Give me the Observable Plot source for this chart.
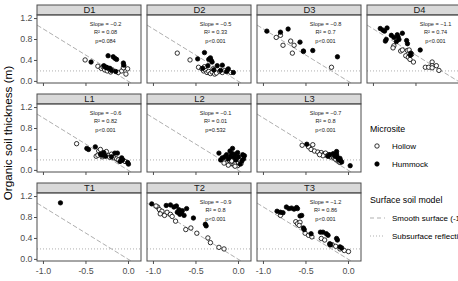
<!DOCTYPE html>
<html>
<head>
<meta charset="utf-8">
<script src="https://cdn.jsdelivr.net/npm/d3@7"></script>
<script src="https://cdn.jsdelivr.net/npm/@observablehq/plot@0.6"></script>
<style>
  html, body { margin: 0; padding: 0; overflow: hidden; background: #fff; }
  #chart { position: relative; width: 458px; height: 281px; overflow: hidden; }
  #chart svg { position: absolute; left: 0; top: 0; max-width: none !important; }
</style>
</head>
<body>
<div id="chart"></div>
<script>
// Sites, one panel each: letter = transect group (row), digit = site number (column)
const sites = ["D1", "D2", "D3", "D4", "L1", "L2", "L3", "T1", "T2", "T3"];
const micrositeNames = ["Hollow", "Hummock"];

// Measurements per site: [microsite elevation (m), organic soil thickness (m), microsite (0 hollow, 1 hummock)]
const D1 = [
  [-0.51, 0.41, 0], [-0.36, 0.29, 0], [-0.32, 0.25, 0], [-0.30, 0.28, 0], [-0.28, 0.22, 0],
  [-0.26, 0.27, 0], [-0.25, 0.20, 0], [-0.23, 0.24, 0], [-0.21, 0.18, 0], [-0.19, 0.22, 0],
  [-0.12, 0.17, 0], [-0.08, 0.20, 0], [-0.03, 0.14, 0], [-0.01, 0.24, 0], [-0.06, 0.26, 0],
  [-0.44, 0.37, 1], [-0.24, 0.49, 1], [-0.18, 0.47, 1], [-0.16, 0.44, 1], [-0.14, 0.42, 1],
  [-0.06, 0.35, 1], [-0.055, 0.31, 1], [-0.29, 0.30, 1], [-0.27, 0.27, 1], [-0.25, 0.26, 1],
  [-0.22, 0.25, 1], [-0.15, 0.19, 1], [-0.20, 0.21, 1]
];
const D2 = [
  [-0.72, 0.54, 0], [-0.57, 0.41, 0], [-0.47, 0.27, 0], [-0.43, 0.24, 0], [-0.41, 0.20, 0],
  [-0.39, 0.22, 0], [-0.37, 0.17, 0], [-0.35, 0.19, 0], [-0.33, 0.15, 0], [-0.31, 0.18, 0],
  [-0.28, 0.14, 0], [-0.26, 0.16, 0], [-0.22, 0.19, 0], [-0.19, 0.17, 0], [-0.16, 0.21, 0],
  [-0.09, 0.17, 0], [-0.40, 0.28, 0], [-0.30, 0.24, 0],
  [-0.48, 0.43, 1], [-0.40, 0.55, 1], [-0.35, 0.42, 1], [-0.33, 0.45, 1], [-0.32, 0.40, 1],
  [-0.31, 0.37, 1], [-0.25, 0.30, 1], [-0.19, 0.31, 1], [-0.12, 0.24, 1], [-0.06, 0.17, 1],
  [-0.42, 0.25, 1], [-0.29, 0.22, 1], [-0.21, 0.21, 1], [-0.36, 0.30, 1], [-0.14, 0.19, 1]
];
const D3 = [
  [-0.85, 0.84, 0], [-0.80, 0.88, 0], [-0.77, 0.69, 0], [-0.68, 0.77, 0], [-0.64, 0.69, 0],
  [-0.66, 0.54, 0], [-0.53, 0.57, 0], [-0.20, 0.27, 0],
  [-0.96, 0.96, 1], [-0.80, 0.94, 1], [-0.71, 1.00, 1], [-0.57, 0.75, 1], [-0.53, 0.58, 1],
  [-0.42, 0.59, 1], [-0.13, 0.47, 1]
];
const D4 = [
  [-0.76, 0.68, 0], [-0.77, 0.64, 0], [-0.68, 0.58, 0], [-0.66, 0.60, 0], [-0.60, 0.59, 0],
  [-0.58, 0.60, 0], [-0.62, 0.49, 0], [-0.59, 0.46, 0], [-0.57, 0.42, 0], [-0.53, 0.37, 0],
  [-0.55, 0.52, 0], [-0.31, 0.37, 0], [-0.31, 0.30, 0], [-0.39, 0.27, 0], [-0.35, 0.27, 0],
  [-0.31, 0.26, 0], [-0.26, 0.30, 0], [-0.23, 0.21, 0],
  [-0.92, 1.01, 1], [-0.89, 0.98, 1], [-0.87, 0.96, 1], [-0.84, 1.02, 1], [-0.85, 0.80, 1],
  [-0.86, 0.77, 1], [-0.79, 0.88, 1], [-0.76, 0.84, 1], [-0.72, 0.89, 1], [-0.71, 0.85, 1],
  [-0.73, 0.76, 1], [-0.66, 0.92, 1], [-0.61, 0.78, 1], [-0.60, 0.72, 1], [-0.56, 0.54, 1],
  [-0.565, 0.50, 1], [-0.45, 0.60, 1], [-0.70, 0.80, 1]
];
const L1 = [
  [-0.61, 0.51, 0], [-0.35, 0.37, 0], [-0.33, 0.40, 0], [-0.38, 0.27, 0], [-0.36, 0.29, 0],
  [-0.30, 0.33, 0], [-0.28, 0.30, 0], [-0.26, 0.36, 0], [-0.24, 0.28, 0], [-0.22, 0.25, 0],
  [-0.20, 0.31, 0], [-0.17, 0.24, 0], [-0.14, 0.22, 0], [-0.12, 0.20, 0], [-0.06, 0.19, 0],
  [-0.04, 0.17, 0], [-0.31, 0.26, 0],
  [-0.49, 0.42, 1], [-0.47, 0.40, 1], [-0.39, 0.45, 1], [-0.33, 0.31, 1], [-0.31, 0.29, 1],
  [-0.29, 0.34, 1], [-0.27, 0.27, 1], [-0.16, 0.33, 1], [-0.13, 0.33, 1], [-0.08, 0.24, 1],
  [-0.07, 0.20, 1], [-0.01, 0.15, 1], [0.00, 0.12, 1], [-0.10, 0.17, 1], [-0.20, 0.26, 1]
];
const L2 = [
  [-0.18, 0.20, 0], [-0.15, 0.18, 0], [-0.13, 0.15, 0], [-0.11, 0.19, 0], [-0.09, 0.13, 0],
  [-0.07, 0.16, 0], [-0.05, 0.11, 0], [-0.03, 0.14, 0], [-0.01, 0.09, 0], [0.01, 0.17, 0],
  [0.03, 0.13, 0], [-0.12, 0.10, 0], [-0.06, 0.21, 0], [-0.17, 0.14, 0], [-0.02, 0.22, 0],
  [0.00, 0.15, 0], [-0.08, 0.18, 0], [-0.04, 0.08, 0], [-0.14, 0.23, 0], [0.02, 0.19, 0],
  [-0.23, 0.33, 1], [-0.07, 0.42, 1], [-0.10, 0.37, 1], [-0.08, 0.33, 1], [-0.01, 0.34, 1],
  [0.05, 0.30, 1], [0.07, 0.28, 1], [-0.19, 0.24, 1], [-0.16, 0.26, 1], [-0.12, 0.22, 1],
  [-0.05, 0.25, 1], [0.02, 0.12, 1], [-0.03, 0.20, 1], [0.04, 0.18, 1], [-0.14, 0.30, 1],
  [0.00, 0.26, 1], [-0.21, 0.20, 1], [0.06, 0.22, 1], [-0.09, 0.27, 1], [-0.04, 0.31, 1]
];
const L3 = [
  [-0.545, 0.48, 0], [-0.47, 0.45, 0], [-0.42, 0.49, 0], [-0.44, 0.40, 0], [-0.40, 0.37, 0],
  [-0.36, 0.35, 0], [-0.32, 0.34, 0], [-0.29, 0.31, 0], [-0.27, 0.33, 0], [-0.25, 0.28, 0],
  [-0.23, 0.30, 0], [-0.21, 0.26, 0], [-0.19, 0.29, 0], [-0.17, 0.24, 0], [-0.15, 0.21, 0],
  [-0.12, 0.18, 0], [-0.10, 0.15, 0], [-0.30, 0.28, 0], [-0.34, 0.30, 0],
  [-0.49, 0.50, 1], [-0.24, 0.27, 1], [-0.22, 0.30, 1], [-0.18, 0.32, 1], [-0.14, 0.31, 1],
  [-0.16, 0.27, 1], [-0.13, 0.25, 1], [-0.12, 0.22, 1], [-0.11, 0.20, 1], [-0.09, 0.18, 1],
  [-0.08, 0.16, 1], [0.02, 0.09, 1], [-0.14, 0.36, 1], [-0.10, 0.23, 1]
];
const T1 = [
  [-0.80, 1.08, 1]
];
const T2 = [
  [-0.95, 1.00, 0], [-0.93, 0.95, 0], [-0.90, 0.92, 0], [-0.92, 0.87, 0], [-0.87, 0.84, 0],
  [-0.84, 0.90, 0], [-0.80, 0.86, 0], [-0.78, 0.82, 0], [-0.74, 0.73, 0], [-0.62, 0.57, 0],
  [-0.56, 0.60, 0], [-0.49, 0.50, 0], [-0.36, 0.41, 0], [-0.33, 0.32, 0], [-0.23, 0.23, 0],
  [-0.17, 0.20, 0], [-0.97, 1.02, 0],
  [-1.02, 1.06, 1], [-0.85, 1.03, 1], [-0.80, 1.04, 1], [-0.76, 1.00, 1], [-0.73, 1.02, 1],
  [-0.70, 0.95, 1], [-0.67, 0.89, 1], [-0.64, 0.84, 1], [-0.61, 0.97, 1], [-0.66, 0.93, 1],
  [-0.53, 0.79, 1], [-0.39, 0.67, 1], [-0.38, 0.64, 1], [-0.72, 0.90, 1], [-0.69, 0.86, 1]
];
const T3 = [
  [-0.80, 0.84, 0], [-0.62, 0.72, 0], [-0.60, 0.68, 0], [-0.57, 0.71, 0], [-0.58, 0.65, 0],
  [-0.51, 0.50, 0], [-0.47, 0.46, 0], [-0.43, 0.43, 0], [-0.32, 0.40, 0], [-0.28, 0.37, 0],
  [-0.22, 0.28, 0], [-0.19, 0.28, 0], [-0.15, 0.25, 0], [-0.10, 0.20, 0], [-0.05, 0.17, 0],
  [0.00, 0.15, 0],
  [-0.84, 0.92, 1], [-0.80, 0.90, 1], [-0.77, 0.89, 1], [-0.73, 1.00, 1], [-0.70, 0.97, 1],
  [-0.67, 0.98, 1], [-0.64, 0.96, 1], [-0.61, 0.99, 1], [-0.60, 0.97, 1], [-0.57, 0.83, 1],
  [-0.55, 0.84, 1], [-0.53, 0.60, 1], [-0.52, 0.57, 1], [-0.44, 0.49, 1], [-0.33, 0.52, 1],
  [-0.30, 0.52, 1], [-0.26, 0.49, 1], [-0.24, 0.46, 1], [-0.22, 0.30, 1], [-0.21, 0.28, 1],
  [-0.14, 0.40, 1], [-0.13, 0.37, 1], [-0.10, 0.24, 1], [-0.08, 0.22, 1]
];

// Regression summaries per site (T1 has a single observation, no fit)
const statSites = ["D1", "D2", "D3", "D4", "L1", "L2", "L3", "T2", "T3"];
const slopes    = ["-0.2", "-0.5", "-0.8", "-1.1", "-0.6", "-0.1", "-0.7", "-0.9", "-1.2"];
const rSquared  = ["0.08", "0.33", "0.7", "0.74", "0.82", "0.01", "0.8", "0.8", "0.86"];
const pValues   = ["p=0.084", "p<0.001", "p<0.001", "p<0.001", "p<0.001", "p=0.532", "p<0.001", "p<0.001", "p<0.001"];

// Surface soil models
const smoothSlope = -1;        // smooth surface: thickness = -elevation
const subsurfaceDepth = 0.2;   // subsurface reflection depth (m)

const xTicks = [-1, -0.5, 0];
const yTicks = [0, 0.4, 0.8, 1.2];

// ---- layout ----
const W = 480, H = 300;
const mLeft = 37, mRight = 9, mTop = 4, mBottom = 38;
const colGap = 6, rowGap = 11, stripPx = 10, tickPx = 3;
const nRows = 3, nCols = 4;
const colStep = (W - mLeft - mRight + colGap) / nCols;
const rowStep = (H - mTop - mBottom + rowGap) / nRows;
const rowBand = rowStep - rowGap;

const xDomain = [-1.07, 0.153];
const yBottom = -0.04, yPanelTop = 1.26;
const pxPerY = (rowBand - stripPx) / (yPanelTop - yBottom);
const yTop = yPanelTop + stripPx / pxPerY;

const siteData = {D1, D2, D3, D4, L1, L2, L3, T1, T2, T3};
const facetOf = s => ({site: s, col: +s[1] - 1, row: s[0]});
const panels = sites.map(facetOf);
const obs = sites.flatMap(s => siteData[s].map(([x, y, m]) => ({...facetOf(s), x, y, micro: micrositeNames[m]})));
const stats = statSites.map((s, i) => ({...facetOf(s), slope: slopes[i], r2: rSquared[i], p: pValues[i]}));

// x ticks under every panel; labels only under the bottom row
const xTickMarks = panels.flatMap(p => xTicks.map(v => ({...p, v})));
const bottomRow = d3.max(panels, p => p.row);
const xTickLabels = xTickMarks.filter(d => d.row === bottomRow);

const yAtBottom = yBottom / smoothSlope;
const smoothLine = [xDomain[0], yAtBottom].map(x => ({x, y: smoothSlope * x}));

const fmt = d => d.toFixed(1);
const font = "Liberation Sans, Arial, Helvetica, sans-serif";
const statX = -0.27;
const facetCh = {fx: "col", fy: "row"};
const axisGrey = "#4d4d4d";

const plot = Plot.plot({
  width: W, height: H,
  marginLeft: mLeft, marginRight: mRight, marginTop: mTop, marginBottom: mBottom,
  x: {domain: xDomain, axis: null},
  y: {domain: [yBottom, yTop]},
  fx: {domain: d3.range(nCols), axis: null, paddingInner: colGap / colStep, paddingOuter: 0},
  fy: {domain: ["D", "L", "T"], axis: null, paddingInner: rowGap / rowStep, paddingOuter: 0},
  color: {domain: micrositeNames, range: ["white", "black"]},
  style: {fontFamily: font, background: "white", overflow: "visible"},
  marks: [
    // strip header
    Plot.rect(panels, {...facetCh, x1: () => xDomain[0], x2: () => xDomain[1], y1: () => yPanelTop, y2: () => yTop,
      fill: "#d9d9d9", stroke: axisGrey, strokeWidth: 1}),
    Plot.text(panels, {...facetCh, x: () => (xDomain[0] + xDomain[1]) / 2, y: () => (yPanelTop + yTop) / 2,
      text: "site", fontSize: 9.4, fill: "#1a1a1a"}),
    // model reference lines
    Plot.ruleY([subsurfaceDepth], {stroke: "#a6a6a6", strokeWidth: 0.9, strokeDasharray: "1,2"}),
    Plot.line(smoothLine, {x: "x", y: "y", stroke: "#a6a6a6", strokeWidth: 0.9, strokeDasharray: "4,3"}),
    // observations
    Plot.dot(obs, {...facetCh, x: "x", y: "y", fill: "micro", stroke: "black", strokeWidth: 0.8, r: 2.2}),
    // fit statistics
    Plot.text(stats, {...facetCh, x: () => statX, y: () => 1.1, text: d => `Slope = \u2212${d.slope.slice(1)}`, fontSize: 5.6, fill: "#1a1a1a"}),
    Plot.text(stats, {...facetCh, x: () => statX, y: () => 0.93, text: d => `R\u00b2 = ${d.r2}`, fontSize: 5.6, fill: "#1a1a1a"}),
    Plot.text(stats, {...facetCh, x: () => statX, y: () => 0.76, text: "p", fontSize: 5.6, fill: "#1a1a1a"}),
    // panel border
    Plot.rect(panels, {...facetCh, x1: () => xDomain[0], x2: () => xDomain[1], y1: () => yBottom, y2: () => yPanelTop,
      fill: "none", stroke: axisGrey, strokeWidth: 1}),
    // y axis on the left column
    Plot.axisY({ticks: yTicks, tickFormat: fmt, tickSize: tickPx, tickPadding: 2, fontSize: 8.8, color: axisGrey, facetAnchor: "left", label: null}),
    // x axis ticks and labels
    Plot.ruleX(xTickMarks, {...facetCh, x: "v", y1: () => yBottom, y2: () => yBottom - tickPx / pxPerY, stroke: axisGrey}),
    Plot.text(xTickLabels, {...facetCh, x: "v", y: () => yBottom, dy: 9.5, text: d => fmt(d.v), fontSize: 8.8, fill: axisGrey})
  ]
});

const chart = document.getElementById("chart");
chart.appendChild(plot);

// axis titles
const svg = d3.select(plot);
const panelsLeft = mLeft, panelsRight = mLeft + 3 * colStep - colGap;
svg.append("text")
  .attr("transform", `translate(12,${(mTop + H - mBottom) / 2}) rotate(-90)`)
  .attr("text-anchor", "middle")
  .attr("font-family", font).attr("font-size", 11.7).attr("fill", "black")
  .text("Organic soil thickness (m)");
svg.append("text")
  .attr("x", (panelsLeft + panelsRight) / 2).attr("y", H - mBottom + 27)
  .attr("text-anchor", "middle")
  .attr("font-family", font).attr("font-size", 11.7).attr("fill", "black")
  .text("Microsite relative elevation (m)");

// legends
const leg = d3.select(chart).append("svg")
  .attr("width", 140).attr("height", 160)
  .style("left", "366px").style("top", "118px")
  .attr("font-family", font);
const lx = 4;
leg.append("text").attr("x", lx).attr("y", 14).attr("font-size", 8.8).text("Microsite");
micrositeNames.forEach((name, i) => {
  const cy = 28 + i * 18;
  leg.append("circle").attr("cx", lx + 7).attr("cy", cy).attr("r", 2.2)
    .attr("fill", i ? "black" : "white").attr("stroke", "black").attr("stroke-width", 0.8);
  leg.append("text").attr("x", lx + 22).attr("y", cy + 3).attr("font-size", 8).text(name);
});
leg.append("text").attr("x", lx).attr("y", 85).attr("font-size", 8.8).text("Surface soil model");
[["Smooth surface (-1:1 line)", "4,3"], ["Subsurface reflection (0.2 m)", "1,2"]].forEach(([name, dash], i) => {
  const cy = 100 + i * 18;
  leg.append("line").attr("x1", lx).attr("x2", lx + 15).attr("y1", cy).attr("y2", cy)
    .attr("stroke", "#a6a6a6").attr("stroke-width", 0.9).attr("stroke-dasharray", dash);
  leg.append("text").attr("x", lx + 22).attr("y", cy + 3).attr("font-size", 8).text(name);
});
</script>
</body>
</html>
